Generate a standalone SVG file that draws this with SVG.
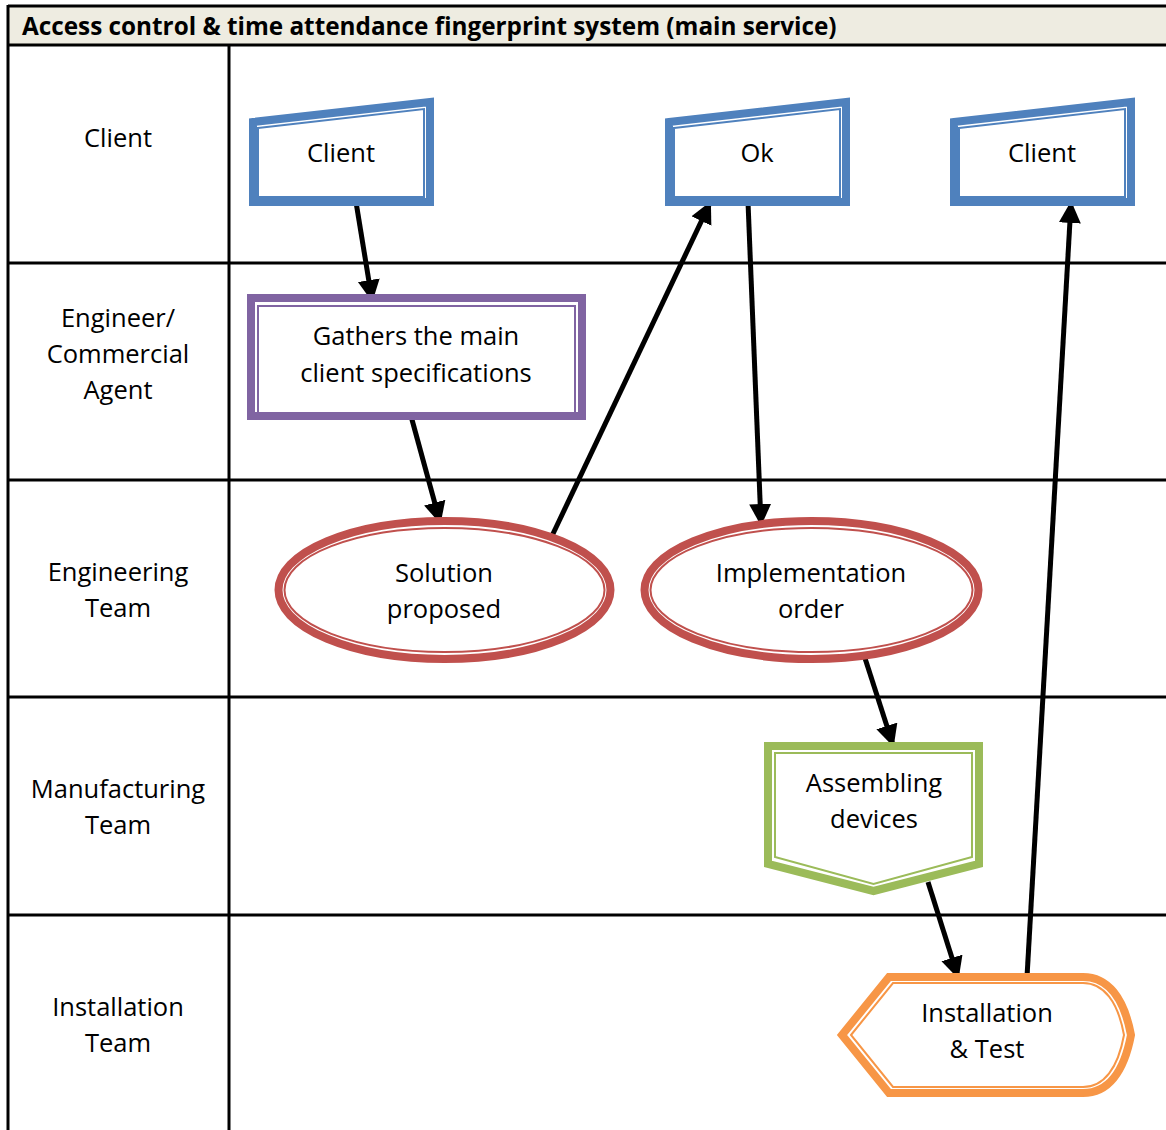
<svg xmlns="http://www.w3.org/2000/svg" width="1166" height="1130" viewBox="0 0 1166 1130">
  <style>
    .grid { stroke: #000; stroke-width: 3; fill: none; }
    .lane { font-family: "Open Sans", "Liberation Sans", sans-serif; font-size: 25.5px; fill: #000; text-anchor: middle; }
    .lbl { font-family: "Open Sans", "Liberation Sans", sans-serif; font-size: 25.5px; fill: #000; text-anchor: middle; }
    .title { font-family: "Open Sans", "Liberation Sans", sans-serif; font-size: 24.3px; font-weight: bold; fill: #000; }
    .blue { stroke: #4F81BD; fill: #fff; }
    .purple { stroke: #8064A2; fill: #fff; }
    .red { stroke: #C0504D; fill: #fff; }
    .green { stroke: #9BBB59; fill: #fff; }
    .orange { stroke: #F79646; fill: #fff; }
    .thick { stroke-width: 8; }
    .thin { stroke-width: 2; fill: none; }
    .conn { stroke: #000; stroke-width: 5; fill: none; marker-end: url(#head); }
  </style>
  <defs>
    <marker id="head" markerUnits="userSpaceOnUse" markerWidth="24" markerHeight="24" viewBox="0 0 24 24" refX="20" refY="12" orient="auto">
      <path d="M0,1 L22,12 L0,23 Z" fill="#000"/>
    </marker>
  </defs>

  <rect width="1166" height="1130" fill="#fff"/>

  <!-- swimlane table -->
  <g id="table">
    <rect x="8" y="6" width="1160" height="39" fill="#EEECE1"/>
    <line class="grid" x1="8" y1="6" x2="1166" y2="6"/>
    <line class="grid" x1="8" y1="45" x2="1166" y2="45"/>
    <line class="grid" x1="8" y1="263" x2="1166" y2="263"/>
    <line class="grid" x1="8" y1="480" x2="1166" y2="480"/>
    <line class="grid" x1="8" y1="697" x2="1166" y2="697"/>
    <line class="grid" x1="8" y1="915" x2="1166" y2="915"/>
    <line class="grid" x1="8" y1="5" x2="8" y2="1130"/>
    <line class="grid" x1="229" y1="45" x2="229" y2="1130"/>
    <text class="title" x="22" y="35">Access control &amp; time attendance fingerprint system (main service)</text>
    <text class="lane" x="118" y="147">Client</text>
    <text class="lane" x="118" y="327">Engineer/</text>
    <text class="lane" x="118" y="363">Commercial</text>
    <text class="lane" x="118" y="399">Agent</text>
    <text class="lane" x="118" y="581">Engineering</text>
    <text class="lane" x="118" y="617">Team</text>
    <text class="lane" x="118" y="798">Manufacturing</text>
    <text class="lane" x="118" y="834">Team</text>
    <text class="lane" x="118" y="1016">Installation</text>
    <text class="lane" x="118" y="1052">Team</text>
  </g>

  <!-- connectors -->
  <g id="connectors">
    <line class="conn" x1="356" y1="202" x2="372" y2="300"/>
    <line class="conn" x1="411" y1="416" x2="440" y2="522"/>
    <line class="conn" x1="551" y1="538" x2="710" y2="203"/>
    <line class="conn" x1="748" y1="202" x2="761" y2="524"/>
    <line class="conn" x1="863" y1="652" x2="893" y2="745"/>
    <line class="conn" x1="928" y1="882" x2="958" y2="977"/>
    <line class="conn" x1="1027" y1="977" x2="1071" y2="203"/>
  </g>

  <!-- nodes -->
  <g id="client1">
    <path class="blue thick" d="M253,122 L430,102 L430,202 L253,202 Z"/>
    <path class="blue thin" d="M258,128 L424,109 L424,197 L258,197 Z"/>
    <text class="lbl" x="341" y="162">Client</text>
  </g>
  <g id="ok">
    <path class="blue thick" d="M669,122 L846,102 L846,202 L669,202 Z"/>
    <path class="blue thin" d="M674,128 L840,109 L840,197 L674,197 Z"/>
    <text class="lbl" x="757" y="162">Ok</text>
  </g>
  <g id="client2">
    <path class="blue thick" d="M954,122 L1131,102 L1131,202 L954,202 Z"/>
    <path class="blue thin" d="M959,128 L1125,109 L1125,197 L959,197 Z"/>
    <text class="lbl" x="1042" y="162">Client</text>
  </g>
  <g id="gathers">
    <rect class="purple thick" x="251" y="298" width="331" height="118"/>
    <rect class="purple thin" x="258" y="306" width="317" height="107"/>
    <text class="lbl" x="416" y="345">Gathers the main</text>
    <text class="lbl" x="416" y="382">client specifications</text>
  </g>
  <g id="solution">
    <ellipse class="red thick" cx="444.5" cy="590" rx="166" ry="69"/>
    <ellipse class="red thin" cx="444.5" cy="590" rx="160" ry="62"/>
    <text class="lbl" x="444" y="582">Solution</text>
    <text class="lbl" x="444" y="618">proposed</text>
  </g>
  <g id="implementation">
    <ellipse class="red thick" cx="811.5" cy="590" rx="167" ry="69"/>
    <ellipse class="red thin" cx="811.5" cy="590" rx="161" ry="62"/>
    <text class="lbl" x="811" y="582">Implementation</text>
    <text class="lbl" x="811" y="618">order</text>
  </g>
  <g id="assembling">
    <path class="green thick" d="M768,746 L979,746 L979,864 L873.5,891 L768,864 Z"/>
    <path class="green thin" d="M775,753 L972,753 L972,857 L873.5,884 L775,857 Z"/>
    <text class="lbl" x="874" y="792">Assembling</text>
    <text class="lbl" x="874" y="828">devices</text>
  </g>
  <g id="installation">
    <path class="orange thick" d="M842,1035 L889,977 L1083,977 C1108,977 1124,998 1131,1035 C1124,1072 1108,1093 1083,1093 L889,1093 Z"/>
    <path class="orange thin" d="M851,1035 L893,983 L1083,983 C1104,983 1118,1002 1124,1035 C1118,1068 1104,1087 1083,1087 L893,1087 Z"/>
    <text class="lbl" x="987" y="1022">Installation</text>
    <text class="lbl" x="987" y="1058">&amp; Test</text>
  </g>
</svg>
